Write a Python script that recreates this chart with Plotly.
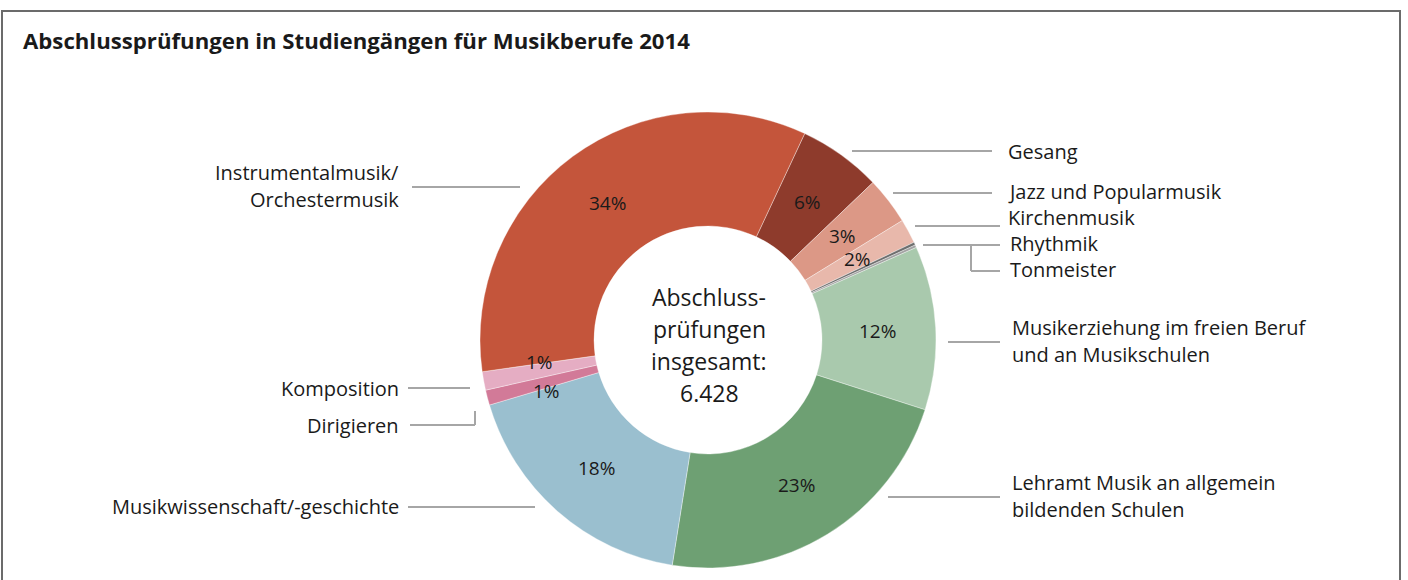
import math
import plotly.graph_objects as go

categories = ["Gesang", "Jazz und Popularmusik", "Kirchenmusik", "Rhythmik", "Tonmeister",
              "Musikerziehung im freien Beruf und an Musikschulen",
              "Lehramt Musik an allgemein bildenden Schulen",
              "Musikwissenschaft/-geschichte", "Dirigieren", "Komposition",
              "Instrumentalmusik/Orchestermusik"]
values = [379, 216, 111, 13, 12, 746, 1450, 1150, 69, 84, 2198]
colors = ["#8e3b2c", "#dc9886", "#e8b8ab", "#6e6e6e", "#a3a3a3", "#a9c9ad",
          "#6ea073", "#9abfcf", "#d27a98", "#e5adc3", "#c4553b"]
show_pct = [True, True, True, False, False, True, True, True, True, True, True]
total_label = "6.428"
title = "Abschlussprüfungen in Studiengängen für Musikberufe 2014"

W, H = 1408, 580
CX, CY, R = 708, 340, 228
ROT = 25.1
# small angular nudges (degrees) for crowded percentage labels
nudge = [0, 0, 0, 0, 0, 0, 0, 0, -3, 3, 0]

def px(x):
    return x / W

def py(y):
    return 1 - y / H

fig = go.Figure(go.Pie(
    labels=categories, values=values, sort=False, direction="clockwise",
    rotation=ROT, hole=0.5, textinfo="none",
    marker=dict(colors=colors, line=dict(color="rgba(255,255,255,0.6)", width=0.6)),
    domain=dict(x=[px(CX - R), px(CX + R)], y=[py(CY + R), py(CY - R)]),
    showlegend=False, hoverinfo="label+value+percent",
))

annotations = []
shapes = []

# percentage labels placed at the middle of each ring segment (computed from the data)
total = sum(values)
cum = 0.0
for v, s, n in zip(values, show_pct, nudge):
    mid = ROT + (cum + v / 2) / total * 360 + n
    cum += v
    if not s:
        continue
    a = math.radians(mid)
    rr = R * 0.745
    x = CX + rr * math.sin(a)
    y = CY - rr * math.cos(a)
    annotations.append(dict(text=f"{round(v / total * 100)}%", xref="paper", yref="paper",
                            x=px(x), y=py(y), xanchor="center", yanchor="middle",
                            showarrow=False,
                            font=dict(family="Open Sans", size=19, color="#1a1a1a")))

LINE = dict(color="#a6a6a6", width=2)

def seg(x0, y0, x1, y1):
    shapes.append(dict(type="line", xref="paper", yref="paper",
                       x0=px(x0), y0=py(y0), x1=px(x1), y1=py(y1), line=LINE))

def lab(lines, x, y, anchor, gap=27):
    if isinstance(lines, str):
        lines = [lines]
    y0 = y - gap * (len(lines) - 1) / 2
    for i, t in enumerate(lines):
        annotations.append(dict(text=t, xref="paper", yref="paper", x=px(x), y=py(y0 + i * gap),
                                xanchor=anchor, yanchor="middle", showarrow=False,
                                font=dict(family="Open Sans", size=20, color="#1a1a1a")))

# right side labels
seg(852, 151, 992, 151); lab("Gesang", 1006, 151, "left")
seg(893, 193, 992, 193); lab("Jazz und Popularmusik", 1006, 191, "left")
seg(915, 226, 1000, 226); lab("Kirchenmusik", 1006, 217, "left")
seg(923, 245, 1000, 245); lab("Rhythmik", 1008, 244, "left")
seg(971, 245, 971, 271); seg(971, 271, 1000, 271); lab("Tonmeister", 1008, 270, "left")
seg(948, 342, 1000, 342); lab(["Musikerziehung im freien Beruf", "und an Musikschulen"], 1010, 341, "left")
seg(888, 497, 1000, 497); lab(["Lehramt Musik an allgemein", "bildenden Schulen"], 1010, 496, "left")
# left side labels
seg(412, 187, 520, 187); lab(["Instrumentalmusik/", "Orchestermusik"], 401, 186, "right")
seg(408, 388, 470, 388); lab("Komposition", 401, 388, "right")
seg(410, 425, 475, 425); seg(475, 425, 475, 411); lab("Dirigieren", 401, 425, "right")
seg(408, 507, 535, 507); lab("Musikwissenschaft/-geschichte", 401, 506, "right")

# centre text
for t, y in zip(["Abschluss-", "prüfungen", "insgesamt:", total_label], [297, 329, 361, 393]):
    annotations.append(dict(text=t, xref="paper", yref="paper", x=px(CX + 1), y=py(y),
                            xanchor="center", yanchor="middle", showarrow=False,
                            font=dict(family="Open Sans", size=23, color="#1a1a1a")))

# title
annotations.append(dict(text="<b>" + title + "</b>", xref="paper", yref="paper",
                        x=px(21), y=py(40), xanchor="left", yanchor="middle", showarrow=False,
                        font=dict(family="Open Sans", size=22.2, color="#1a1a1a")))

# frame
shapes.append(dict(type="rect", xref="paper", yref="paper", x0=px(2), y0=py(600),
                   x1=px(1400), y1=py(11), line=dict(color="#6b6b6b", width=2)))

fig.update_layout(width=W, height=H, margin=dict(l=0, r=0, t=0, b=0),
                  paper_bgcolor="white", plot_bgcolor="white",
                  shapes=shapes, annotations=annotations)
fig.write_html("out.html", config={"displayModeBar": False},
               post_script="document.body.style.margin='0';")
